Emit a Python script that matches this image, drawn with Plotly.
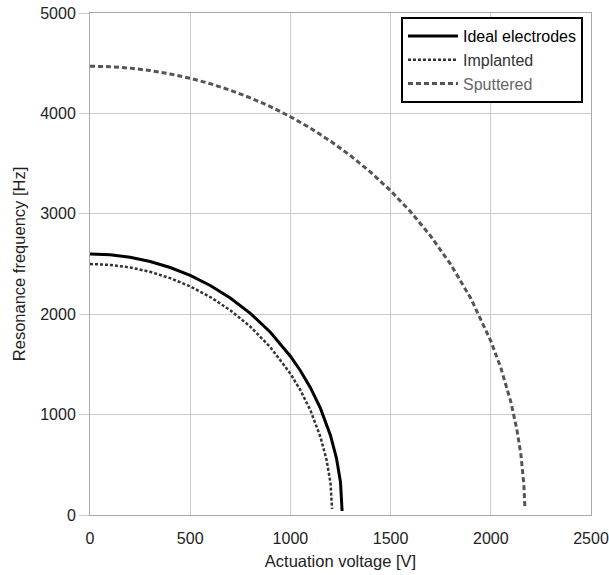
import plotly.graph_objects as go

# Actuation voltage [V] and resonance frequency [Hz]
ideal_v = [0, 100, 200, 300, 400, 500, 600, 700, 800, 900, 1000, 1050, 1100, 1150, 1200, 1230, 1250, 1258]
ideal_f = [2600, 2592, 2567, 2525, 2465, 2387, 2286, 2162, 2009, 1820, 1581, 1437, 1268, 1062, 793, 564, 326, 40]

impl_v = [0, 100, 200, 300, 400, 500, 600, 700, 800, 900, 1000, 1050, 1100, 1150, 1180, 1200, 1208]
impl_f = [2500, 2491, 2466, 2422, 2359, 2277, 2171, 2039, 1876, 1671, 1408, 1243, 1042, 777, 553, 321, 60]

sput_v = [0, 100, 200, 300, 400, 500, 600, 700, 800, 900, 1000, 1100, 1200, 1300, 1400, 1500,
          1600, 1700, 1800, 1900, 2000, 2050, 2100, 2130, 2150, 2165, 2170]
sput_f = [4470, 4465, 4451, 4427, 4393, 4350, 4296, 4231, 4155, 4068, 3967, 3853, 3724, 3579, 3415, 3230,
          3020, 2778, 2496, 2159, 1734, 1466, 1126, 854, 605, 303, 80]

x_ticks = [0, 500, 1000, 1500, 2000, 2500]
y_ticks = [0, 1000, 2000, 3000, 4000, 5000]

fig = go.Figure()
fig.add_trace(go.Scatter(x=ideal_v, y=ideal_f, mode="lines", name="Ideal electrodes",
                         line=dict(color="#000000", width=3)))
fig.add_trace(go.Scatter(x=impl_v, y=impl_f, mode="lines",
                         name="<span style='color:#333333'>Implanted</span>",
                         line=dict(color="#333333", width=2.5, dash="3px,2px")))
fig.add_trace(go.Scatter(x=sput_v, y=sput_f, mode="lines",
                         name="<span style='color:#666666'>Sputtered</span>",
                         line=dict(color="#555555", width=3, dash="5px,3px")))

font = "Liberation Sans, Arial, sans-serif"
fig.update_layout(
    width=609, height=575,
    margin=dict(l=90, r=18, t=13, b=60, autoexpand=False),
    paper_bgcolor="white", plot_bgcolor="white",
    font=dict(family=font, size=16, color="#222222"),
    showlegend=True,
    legend=dict(x=0.984, y=0.992, xanchor="right", yanchor="top",
                bordercolor="#000000", borderwidth=2, bgcolor="white",
                font=dict(family=font, size=16, color="#000000"),
                tracegroupgap=0, itemwidth=50),
    xaxis=dict(range=[0, 2500], tickvals=x_ticks, showgrid=True, gridcolor="#cccccc", gridwidth=1,
               showline=True, linecolor="#aaaaaa", linewidth=1, mirror=True, zeroline=False,
               automargin=False,
               ticks="outside", ticklen=9, tickcolor="rgba(0,0,0,0)",
               title=dict(text="Actuation voltage [V]", standoff=9, font=dict(size=16.5)),
               tickfont=dict(size=16)),
    yaxis=dict(range=[0, 5000], tickvals=y_ticks, showgrid=True, gridcolor="#cccccc", gridwidth=1,
               showline=True, linecolor="#aaaaaa", linewidth=1, mirror=True, zeroline=False,
               automargin=False,
               ticks="outside", ticklen=10, tickcolor="#cccccc",
               title=dict(text="Resonance frequency [Hz]", standoff=10, font=dict(size=16.5)),
               tickfont=dict(size=16)),
)

fig.write_html("out.html")
